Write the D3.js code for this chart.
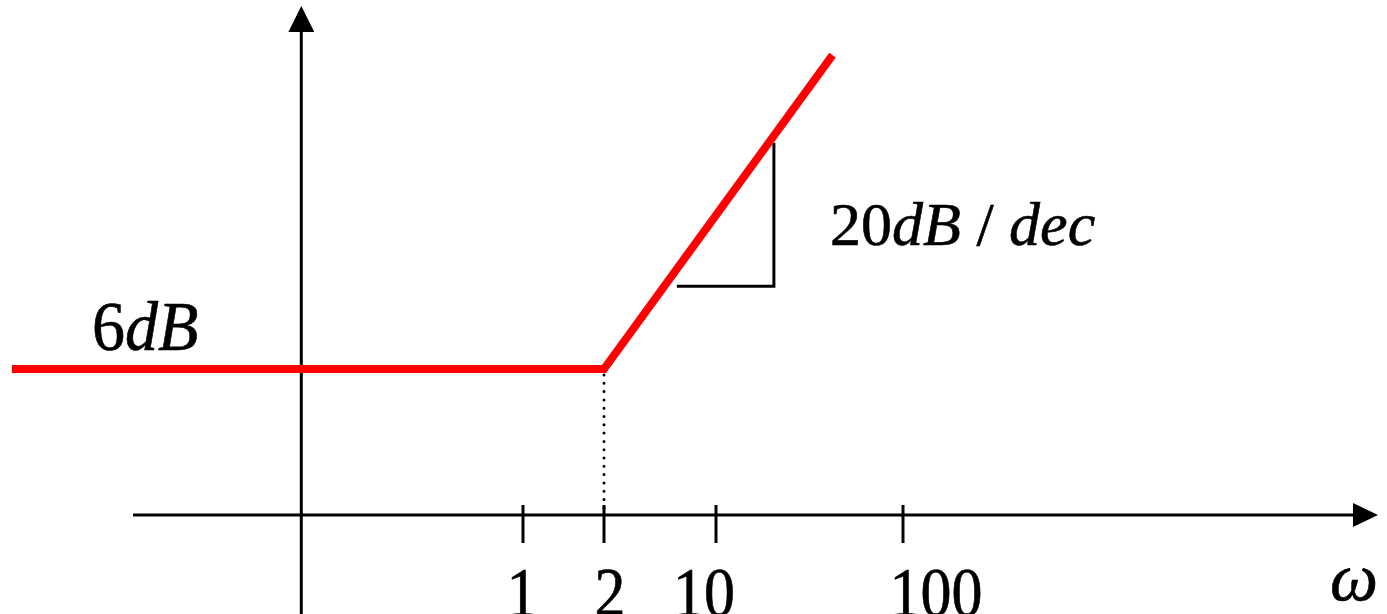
<!DOCTYPE html>
<html>
<head>
<meta charset="utf-8">
<script src="https://cdn.jsdelivr.net/npm/d3@7"></script>
<style>
  html, body { margin: 0; padding: 0; background: #fff; overflow: hidden; }
  text { font-family: 'Liberation Serif', 'Times New Roman', serif; fill: #000; stroke: #000; stroke-width: 0.6; }
</style>
</head>
<body>
<script>
// Width and height
const w = 1387;
const h = 614;

// Frequency ticks (schematic, not to true log spacing)
const tickValues = [1, 2, 10, 100];
const tickLabels = ['1', '2', '10', '100'];

// Asymptotic magnitude: flat 6 dB, corner at w = 2, then +20 dB/dec
const asymW = [0.0126, 2, 42];
const asymDb = [6, 6, 18.9];

// Slope triangle corners (w, dB)
const triW = [5.7, 20.4, 20.4];
const triDb = [9.4, 9.4, 15.3];

const cornerW = 2;
const flatDb = 6;
const yAxisW = 0.15;

// x scale works on log10(w), piecewise to follow the drawing's tick spacing
const xs = d3
  .scaleLinear()
  .domain(tickValues.map(v => Math.log10(v)))
  .range([523, 604, 716, 903]);
const x = v => xs(Math.log10(v));

// y scale in dB, 0 dB sits on the horizontal axis
const y = d3.scaleLinear().domain([0, flatDb]).range([515, 369]);

const svg = d3
  .select('body')
  .append('svg')
  .attr('width', w)
  .attr('height', h);

// Horizontal axis with arrow
const y0 = y(0);
svg
  .append('line')
  .attr('x1', 133)
  .attr('x2', 1356)
  .attr('y1', y0)
  .attr('y2', y0)
  .attr('stroke', '#000')
  .attr('stroke-width', 3);
svg
  .append('path')
  .attr('d', `M1378,${y0} L1353,${y0 - 12} L1353,${y0 + 12} Z`)
  .attr('fill', '#000');

// Vertical axis with arrow
const x0 = x(yAxisW);
svg
  .append('line')
  .attr('x1', x0)
  .attr('x2', x0)
  .attr('y1', h)
  .attr('y2', 30)
  .attr('stroke', '#000')
  .attr('stroke-width', 3);
svg
  .append('path')
  .attr('d', `M${x0},6 L${x0 - 13},32 L${x0 + 13},32 Z`)
  .attr('fill', '#000');

// Ticks and labels
svg
  .selectAll('.tick')
  .data(tickValues)
  .enter()
  .append('line')
  .attr('class', 'tick')
  .attr('x1', d => x(d))
  .attr('x2', d => x(d))
  .attr('y1', y0 - 10)
  .attr('y2', y0 + 28)
  .attr('stroke', '#000')
  .attr('stroke-width', 3);

// labels sit a little off their ticks in the drawing
const labelNudge = [-1, 6, -12, 33];
svg
  .selectAll('.tlabel')
  .data(tickValues)
  .enter()
  .append('text')
  .attr('class', 'tlabel')
  .attr('transform', (d, i) => `translate(${x(d) + labelNudge[i]},616) scale(1,1.12)`)
  .attr('text-anchor', 'middle')
  .attr('font-size', 62)
  .text((d, i) => tickLabels[i]);

// omega label
svg
  .append('text')
  .attr('x', 1354)
  .attr('y', 600)
  .attr('text-anchor', 'middle')
  .attr('font-size', 68)
  .attr('font-style', 'italic')
  .text('ω');

// Dotted guide at the corner frequency
svg
  .append('line')
  .attr('x1', x(cornerW))
  .attr('x2', x(cornerW))
  .attr('y1', y(flatDb) + 6)
  .attr('y2', y0 - 3)
  .attr('stroke', '#000')
  .attr('stroke-width', 3)
  .attr('stroke-linecap', 'round')
  .attr('stroke-dasharray', '0,8.3');

// Slope triangle
const line = d3
  .line()
  .x(d => x(d[0]))
  .y(d => y(d[1]));
svg
  .append('path')
  .attr('d', line(triW.map((v, i) => [v, triDb[i]])))
  .attr('fill', 'none')
  .attr('stroke', '#000')
  .attr('stroke-width', 3);

// Red asymptote
svg
  .append('path')
  .attr('d', line(asymW.map((v, i) => [v, asymDb[i]])))
  .attr('fill', 'none')
  .attr('stroke', '#ff0000')
  .attr('stroke-width', 8)
  .attr('stroke-linejoin', 'miter');

// Annotations
const t1 = svg
  .append('text')
  .attr('transform', 'translate(92,350) scale(1,1.05)')
  .attr('font-size', 66);
t1.append('tspan').text('6');
t1.append('tspan').attr('font-style', 'italic').text('dB');

const t2 = svg
  .append('text')
  .attr('x', 830)
  .attr('y', 245)
  .attr('font-size', 62);
t2.append('tspan').text('20');
t2.append('tspan').attr('font-style', 'italic').text('dB');
t2.append('tspan').text(' / ');
t2.append('tspan').attr('font-style', 'italic').text('dec');
</script>
</body>
</html>
